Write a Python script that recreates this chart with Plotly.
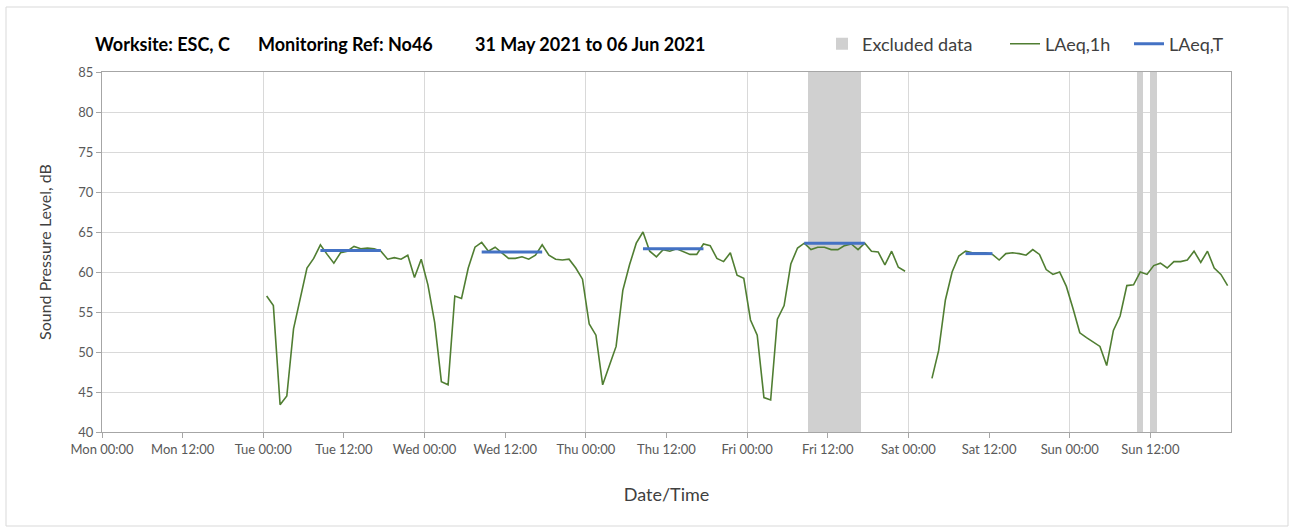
import pandas as pd
import plotly.graph_objects as go

# ---------------- data ----------------
# Hourly LAeq,1h values, one list per day (values plotted at hh:30)
tue = [57.0, 55.8, 43.4, 44.5, 52.9, 56.5, 60.5, 61.7, 63.4, 62.2, 61.1, 62.4,
       62.6, 63.2, 62.9, 63.0, 62.9, 62.6, 61.6, 61.8, 61.6, 62.1, 59.3, 61.6]
wed = [58.4, 53.7, 46.3, 45.9, 57.0, 56.7, 60.5, 63.1, 63.7, 62.6, 63.1, 62.4,
       61.7, 61.7, 61.9, 61.6, 62.1, 63.4, 62.1, 61.6, 61.5, 61.6, 60.5, 59.1]
thu = [53.5, 52.1, 45.9, 48.3, 50.7, 57.7, 60.9, 63.6, 65.0, 62.6, 61.9, 62.8,
       62.6, 62.9, 62.5, 62.2, 62.2, 63.5, 63.3, 61.7, 61.3, 62.4, 59.6, 59.2]
fri = [54.0, 52.1, 44.3, 44.0, 54.1, 55.8, 61.0, 63.0, 63.6, 62.8, 63.1, 63.1,
       62.8, 62.8, 63.3, 63.5, 62.8, 63.6, 62.6, 62.5, 60.9, 62.6, 60.6, 60.1]
sat = [None, None, None, 46.7, 50.2, 56.5, 60.0, 62.0, 62.6, 62.4, 62.4, 62.4,
       62.2, 61.5, 62.3, 62.4, 62.3, 62.1, 62.8, 62.2, 60.3, 59.7, 60.0, 58.2]
sun = [55.4, 52.4, 51.8, 51.3, 50.7, 48.3, 52.7, 54.5, 58.3, 58.4, 60.0, 59.7,
       60.8, 61.1, 60.5, 61.3, 61.3, 61.5, 62.6, 61.2, 62.6, 60.5, 59.7, 58.3]
laeq_1h = tue + wed + thu + fri + sat + sun
times_1h = pd.date_range("2021-06-01 00:30", periods=len(laeq_1h), freq="h")

# LAeq,T over the working periods
period_start = ["2021-06-01 08:30", "2021-06-02 08:30", "2021-06-03 08:30",
                "2021-06-04 08:30", "2021-06-05 08:30"]
period_end = ["2021-06-01 17:30", "2021-06-02 17:30", "2021-06-03 17:30",
              "2021-06-04 17:30", "2021-06-05 12:30"]
laeq_t = [62.7, 62.5, 62.9, 63.6, 62.3]

# Excluded data intervals
excl_start = ["2021-06-04 09:00", "2021-06-06 10:00", "2021-06-06 12:00"]
excl_end = ["2021-06-04 17:00", "2021-06-06 10:50", "2021-06-06 13:00"]

# axis
y_min, y_max = 40, 85
x_start, x_end = "2021-05-31 00:00", "2021-06-07 00:00"
x_ticks = pd.date_range(x_start, "2021-06-06 12:00", freq="12h")

title_parts = ["Worksite: ESC, C", "Monitoring Ref: No46", "31 May 2021 to 06 Jun 2021"]

# ---------------- figure ----------------
es = pd.to_datetime(excl_start)
ee = pd.to_datetime(excl_end)
mid = es + (ee - es) / 2
width_ms = [(b - a).total_seconds() * 1000 for a, b in zip(es, ee)]

bx, by = [], []
for s, e, v in zip(period_start, period_end, laeq_t):
    bx += [s, e, None]
    by += [v, v, None]

fig = go.Figure()
fig.add_trace(go.Bar(
    x=mid, y=[y_max - y_min] * len(mid), base=y_min, width=width_ms,
    marker=dict(color="#D0D0D0", line=dict(width=0)),
    name="Excluded data", hoverinfo="skip", legendwidth=138))
fig.add_trace(go.Scatter(
    x=times_1h, y=laeq_1h, mode="lines", name="LAeq,1h",
    line=dict(color="#507E32", width=1.6), connectgaps=False, legendwidth=79))
fig.add_trace(go.Scatter(
    x=bx, y=by, mode="lines", name="LAeq,T",
    line=dict(color="#4472C4", width=3)))

FONT = "Lato"
L, R, T, B = 102, 68, 72, 98
W, H = 1299, 530
pw, ph = W - L - R, H - T - B

def px_x(x):
    return (x - L) / pw

def px_y(y):
    return (H - B - y) / ph

annotations = []
for txt, xl in zip(title_parts, [93, 256, 473]):
    annotations.append(dict(
        text="<b>%s</b>" % txt, x=px_x(xl), y=px_y(44), xref="paper", yref="paper",
        xanchor="left", yanchor="middle", showarrow=False,
        font=dict(family=FONT, size=18, color="#000000")))

fig.update_layout(
    width=W, height=H,
    margin=dict(l=L, r=R, t=T, b=B, autoexpand=False),
    paper_bgcolor="white", plot_bgcolor="white",
    font=dict(family=FONT, color="#404040"),
    showlegend=True,
    legend=dict(orientation="h", x=px_x(822), xanchor="left", y=px_y(44), yanchor="middle",
                font=dict(family=FONT, size=18, color="#404040"),
                bgcolor="rgba(0,0,0,0)", borderwidth=0),
    annotations=annotations,
    bargap=0,
    shapes=[dict(type="rect", xref="paper", yref="paper",
                 x0=px_x(6), x1=px_x(1288), y0=px_y(526), y1=px_y(7),
                 line=dict(color="#D9D9D9", width=1), fillcolor="rgba(0,0,0,0)", layer="below")],
)

fig.update_xaxes(
    type="date", range=[x_start, x_end],
    tickvals=x_ticks, tickformat="%a %H:%M", tickangle=0,
    ticks="outside", ticklen=5, tickcolor="#A6A6A6",
    tickfont=dict(family=FONT, size=13, color="#595959"),
    showgrid=False,
    minor=dict(dtick=86400000, tick0=x_start, showgrid=True, gridcolor="#D9D9D9", gridwidth=1, ticks=""),
    showline=True, linecolor="#A6A6A6", linewidth=1, mirror=True,
    title=dict(text="Date/Time", font=dict(family=FONT, size=18, color="#404040"), standoff=32),
    zeroline=False,
)
fig.update_yaxes(
    range=[y_min, y_max], dtick=5, tick0=40,
    ticks="outside", ticklen=5, tickcolor="#A6A6A6",
    tickfont=dict(family=FONT, size=13, color="#595959"),
    showgrid=True, gridcolor="#D9D9D9", gridwidth=1,
    showline=True, linecolor="#A6A6A6", linewidth=1, mirror=True,
    title=dict(text="Sound Pressure Level, dB", font=dict(family=FONT, size=16, color="#404040"), standoff=22),
    zeroline=False,
)

fig.write_html("out.html", config={"displayModeBar": False},
               post_script="document.body.style.margin='0';")
